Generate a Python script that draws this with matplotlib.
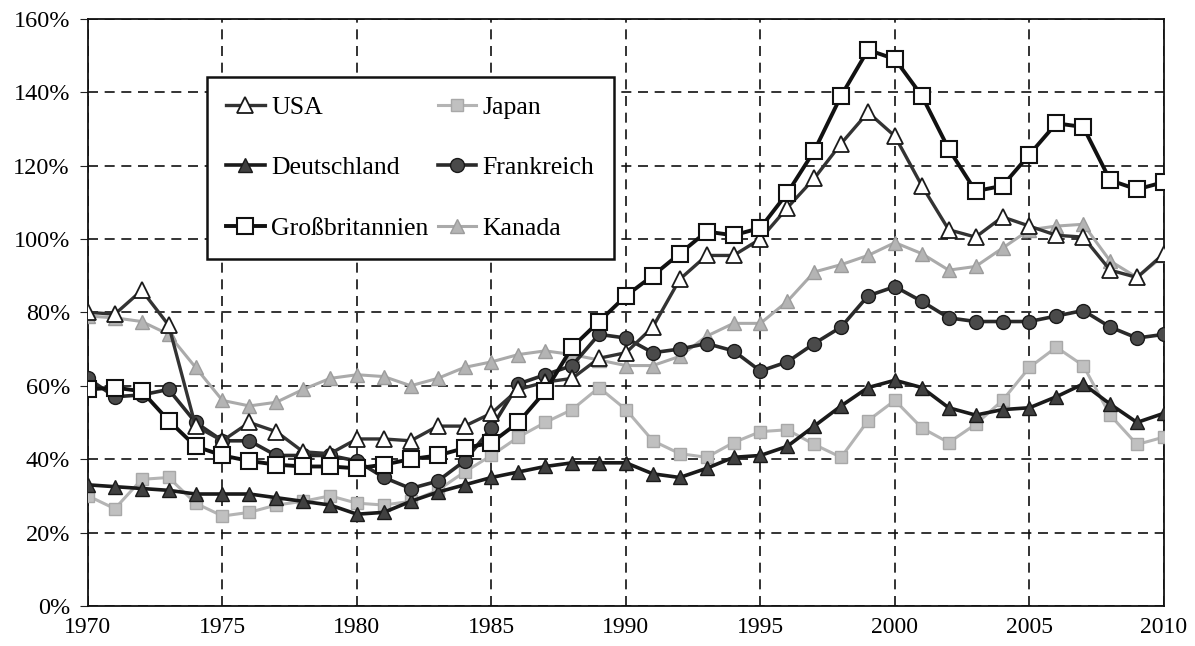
import matplotlib
matplotlib.use("Agg")
import matplotlib.pyplot as plt
from matplotlib.ticker import FuncFormatter

# Jahre und Werte (in %)
years = list(range(1970, 2011))

usa = [80, 79.5, 86, 76.5, 49, 45, 50, 47.5, 42, 41.5,
       45.5, 45.5, 45, 49, 49, 52.5, 59, 61, 62, 67.5,
       69, 76, 89, 95.5, 95.5, 100, 108.5, 116.5, 126, 134.5,
       128, 114.5, 102.5, 100.5, 106, 103.5, 101, 100.5, 91.5, 89.5,
       96]
japan = [30, 26.5, 34.5, 35, 28, 24.5, 25.5, 27.5, 28.5, 30,
         28, 27.5, 28.5, 31.5, 36.5, 41, 46, 50, 53.5, 59.5,
         53.5, 45, 41.5, 40.5, 44.5, 47.5, 48, 44, 40.5, 50.5,
         56, 48.5, 44.5, 49.5, 56, 65, 70.5, 65.5, 52, 44,
         46]
deutschland = [33, 32.5, 32, 31.5, 30.5, 30.5, 30.5, 29.5, 28.5, 27.5,
               25, 25.5, 28.5, 31, 33, 35, 36.5, 38, 39, 39,
               39, 36, 35, 37.5, 40.5, 41, 43.5, 49, 54.5, 59.5,
               61.5, 59.5, 54, 52, 53.5, 54, 57, 60.5, 55, 50,
               52.5]
frankreich = [62, 57, 57.5, 59, 50, 45, 45, 41, 41, 41,
              39.5, 35, 32, 34, 39.5, 48.5, 60.5, 63, 65.5, 74,
              73, 69, 70, 71.5, 69.5, 64, 66.5, 71.5, 76, 84.5,
              87, 83, 78.5, 77.5, 77.5, 77.5, 79, 80.5, 76, 73,
              74]
gb = [59, 59.5, 58.5, 50.5, 43.5, 41, 39.5, 38.5, 38, 38,
      37.5, 38.5, 40, 41, 43, 44.5, 50, 58.5, 70.5, 77.5,
      84.5, 90, 96, 102, 101, 103, 112.5, 124, 139, 151.5,
      149, 139, 124.5, 113, 114.5, 123, 131.5, 130.5, 116, 113.5,
      115.5]
kanada = [79, 78.5, 77.5, 74, 65, 56, 54.5, 55.5, 59, 62,
          63, 62.5, 60, 62, 65, 66.5, 68.5, 69.5, 68.5, 67,
          65.5, 65.5, 68, 73.5, 77, 77, 83, 91, 93, 95.5,
          99, 96, 91.5, 92.5, 97.5, 102.5, 103.5, 104, 94, 89.5,
          95.5]

plt.rcParams["font.family"] = ["Liberation Serif", "DejaVu Serif"]

fig = plt.figure(figsize=(11.95, 6.46), dpi=100)
ax = fig.add_axes([0.0736, 0.062, 0.9004, 0.909])

# graue Reihen zuerst
ax.plot(years, japan, color="#b4b4b4", lw=2.2, marker="s", ms=9,
        mfc="#c0c0c0", mec="#a8a8a8", label="Japan", zorder=3)
ax.plot(years, kanada, color="#aaaaaa", lw=2.2, marker="^", ms=10,
        mfc="#b4b4b4", mec="#9c9c9c", label="Kanada", zorder=3)
ax.plot(years, deutschland, color="#1a1a1a", lw=2.6, marker="^", ms=10,
        mfc="#404040", mec="#1a1a1a", label="Deutschland", zorder=4)
ax.plot(years, frankreich, color="#2a2a2a", lw=2.6, marker="o", ms=10,
        mfc="#4a4a4a", mec="#1a1a1a", label="Frankreich", zorder=4)
ax.plot(years, usa, color="#333333", lw=2.4, marker="^", ms=11.5,
        mfc="white", mec="#1a1a1a", mew=1.3, label="USA", zorder=5)
ax.plot(years, gb, color="#111111", lw=2.8, marker="s", ms=11,
        mfc="white", mec="#111111", mew=1.5, label="Großbritannien", zorder=5)

ax.set_xlim(1970, 2010)
ax.set_ylim(0, 160)
ax.set_xticks(range(1970, 2011, 5))
ax.set_yticks(range(0, 161, 20))
ax.yaxis.set_major_formatter(FuncFormatter(lambda v, p: f"{v:.0f}%"))
ax.tick_params(axis="both", color="#222222")
ax.tick_params(axis="x", length=0, pad=8, labelsize=17)
ax.tick_params(axis="y", direction="out", length=6, pad=7, labelsize=17.5)

ax.grid(True, color="#111111", linestyle=(0, (6, 4)), linewidth=1.2)
for s in ax.spines.values():
    s.set_color("#111111")
    s.set_linewidth(1.3)

h, l = ax.get_legend_handles_labels()
order = ["USA", "Deutschland", "Großbritannien", "Japan", "Frankreich", "Kanada"]
hh = [h[l.index(n)] for n in order]
leg = ax.legend(hh, order, ncol=2, loc="upper left",
                bbox_to_anchor=(0.1106, 0.901), borderaxespad=0,
                fontsize=18.5, handlelength=1.5, handletextpad=0.25,
                columnspacing=0.35, labelspacing=1.45, borderpad=0.75,
                frameon=True, fancybox=False, edgecolor="#111111",
                framealpha=1)
leg.get_frame().set_linewidth(1.8)
leg.set_zorder(10)

fig.savefig("out.png", dpi=100)
